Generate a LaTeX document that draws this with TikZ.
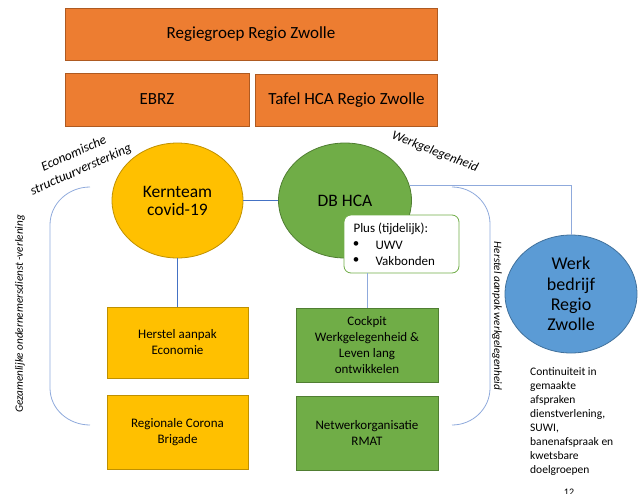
\documentclass[tikz,border=0pt]{standalone}
\usepackage{fontspec}
\setmainfont{Carlito}
\usetikzlibrary{shapes.geometric,calc}
\definecolor{orfill}{HTML}{ED7D31}
\definecolor{ordraw}{HTML}{AE5A21}
\definecolor{yefill}{HTML}{FFC000}
\definecolor{yedraw}{HTML}{BF9000}
\definecolor{grfill}{HTML}{70AD47}
\definecolor{grdraw}{HTML}{507E32}
\definecolor{blfill}{HTML}{5B9BD5}
\definecolor{bldraw}{HTML}{41719C}
\definecolor{lndark}{HTML}{4472C4}
\definecolor{lnlight}{HTML}{8FAADC}
\begin{document}
\begin{tikzpicture}[x=1pt,y=-1pt,
  orbox/.style={draw=ordraw,fill=orfill,line width=0.8pt,inner sep=0pt,font=\fontsize{17}{18}\selectfont},
  yebox/.style={draw=yedraw,fill=yefill,line width=0.8pt,inner sep=0pt,align=center,font=\fontsize{13}{16}\selectfont},
  grbox/.style={draw=grdraw,fill=grfill,line width=0.8pt,inner sep=0pt,align=center,font=\fontsize{13}{16}\selectfont},
  bigell/.style={ellipse,line width=0.8pt,inner sep=0pt,align=center},
  darkln/.style={draw=lndark,line width=0.8pt},
  lightln/.style={draw=lnlight,line width=0.8pt},
  plustext/.style={font=\fontsize{13}{16}\selectfont},
  sidetext/.style={font=\fontsize{11.2}{13}\selectfont\itshape}]
\useasboundingbox (0,0) rectangle (642,493);
% top orange boxes
\node[orbox,minimum width=372pt,minimum height=52pt] (regie) at (251,34) {Regiegroep Regio Zwolle};
\node[orbox,minimum width=184pt,minimum height=53pt] (ebrz) at (157,99.5) {EBRZ};
\node[orbox,minimum width=182pt,minimum height=52pt] (tafel) at (346.5,100) {Tafel HCA Regio Zwolle};
% ellipses
\node[bigell,draw=yedraw,fill=yefill,minimum width=131pt,minimum height=115pt,font=\fontsize{17.5}{18}\selectfont] (kt) at (177.5,200.5) {Kernteam\\covid-19};
\node[bigell,draw=grdraw,fill=grfill,minimum width=133pt,minimum height=115pt,font=\fontsize{17.5}{18}\selectfont] (db) at (345,200.5) {DB HCA};
\node[bigell,draw=bldraw,fill=blfill,minimum width=132pt,minimum height=118pt,font=\fontsize{18}{20.3}\selectfont] (werk) at (571,294) {Werk\\bedrijf\\Regio\\Zwolle};
% lower boxes
\node[yebox,minimum width=141pt,minimum height=71pt] (herstel) at (177.5,342.5) {Herstel aanpak\\Economie};
\node[yebox,minimum width=141pt,minimum height=74pt] (brigade) at (177.5,432) {Regionale Corona\\Brigade};
\node[grbox,minimum width=142pt,minimum height=74pt] (cockpit) at (367,345) {Cockpit\\Werkgelegenheid \&\\Leven lang\\ontwikkelen};
\node[grbox,minimum width=142pt,minimum height=74pt] (rmat) at (367,433) {Netwerkorganisatie\\RMAT};
% plus box
\node[draw=grfill,fill=white,line width=0.8pt,rounded corners=7pt,minimum width=115pt,minimum height=58pt,inner sep=0pt] (plus) at (401.5,244) {};
\node[anchor=west,plustext] (plust) at (350,229) {Plus (tijdelijk):};
\node[plustext] (b1) at (356,245) {\textbullet};
\node[plustext] (b2) at (356,261) {\textbullet};
\node[anchor=west,plustext] (uwv) at (372,245) {UWV};
\node[anchor=west,plustext] (vak) at (372,261) {Vakbonden};
% connectors
\draw[darkln] (kt) -- (db);
\draw[darkln] (kt.south) -- (herstel.north);
\draw[lightln] (plus.south -| cockpit.north) -- (cockpit.north);
\draw[lightln] (db.13) -| (werk.north);
% brackets
\coordinate (lbt) at (90,187);
\coordinate (lbb) at (90,425);
\coordinate (rbt) at (452,187);
\coordinate (rbb) at (452,425);
\draw[lightln] (lbt) to[out=180,in=90] (50,225) -- (50,388) to[out=-90,in=180] (lbb);
\draw[lightln] (rbt) to[out=0,in=90] (490,224) -- (490,388) to[out=-90,in=0] (rbb);
% side texts
\node[font=\fontsize{13.3}{17.5}\selectfont\itshape,rotate=24,align=center] (eco) at (77.5,162) {Economische\\structuurversterking};
\node[font=\fontsize{13}{13}\selectfont\itshape,rotate=-21] (wg) at (435,152) {Werkgelegenheid};
\node[sidetext,rotate=90] (gez) at (20,314) {Gezamenlijke ondernemersdienst -verlening};
\node[sidetext,rotate=-90] (hw) at (497,316) {Herstel aanpak werkgelegenheid};
\node[anchor=north west,align=left,font=\fontsize{11.5}{14}\selectfont,inner sep=0pt] (cont) at (530,367) {Continuiteit in\\gemaakte\\afspraken\\dienstverlening,\\SUWI,\\banenafspraak en\\kwetsbare\\doelgroepen};
\node[font=\fontsize{10}{12}\selectfont] (pg) at (569,492) {12};
\end{tikzpicture}
\end{document}
